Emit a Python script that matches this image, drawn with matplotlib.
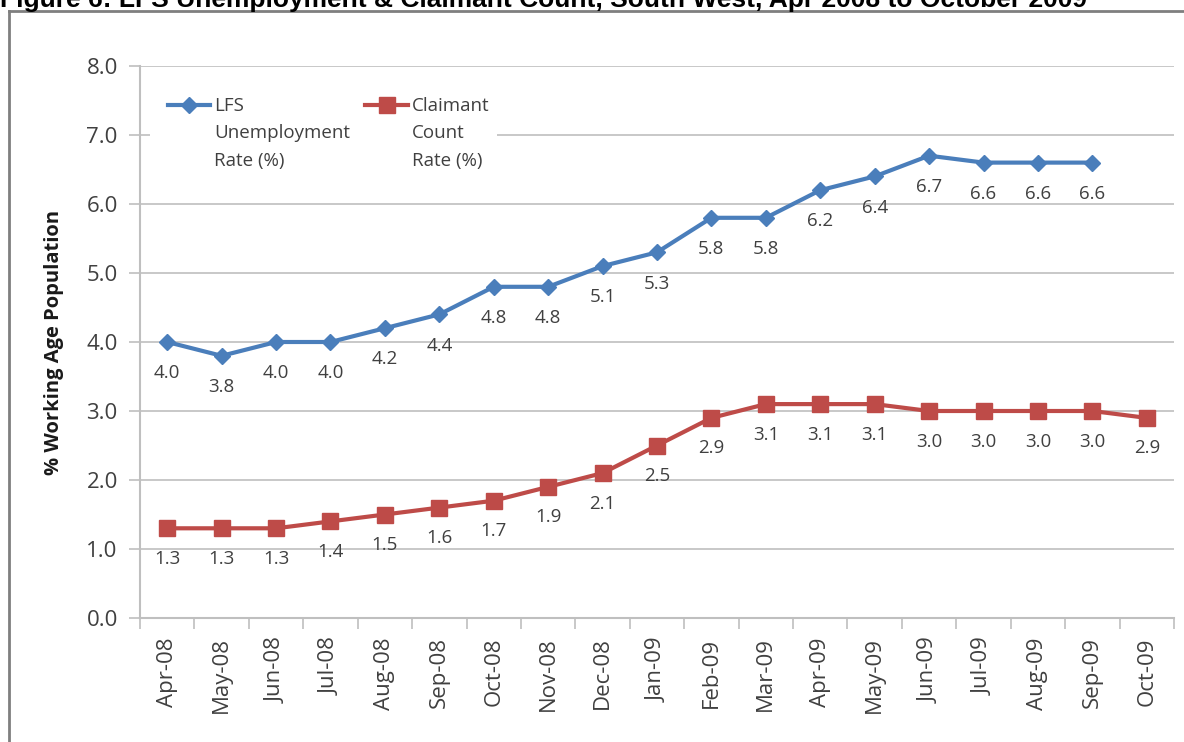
import matplotlib
matplotlib.use("Agg")
import matplotlib.pyplot as plt
from matplotlib.lines import Line2D
from matplotlib.patches import Rectangle

months = ["Apr-08", "May-08", "Jun-08", "Jul-08", "Aug-08", "Sep-08", "Oct-08",
          "Nov-08", "Dec-08", "Jan-09", "Feb-09", "Mar-09", "Apr-09", "May-09",
          "Jun-09", "Jul-09", "Aug-09", "Sep-09", "Oct-09"]
lfs_rate = [4.0, 3.8, 4.0, 4.0, 4.2, 4.4, 4.8, 4.8, 5.1, 5.3, 5.8, 5.8, 6.2,
            6.4, 6.7, 6.6, 6.6, 6.6]
claimant_rate = [1.3, 1.3, 1.3, 1.4, 1.5, 1.6, 1.7, 1.9, 2.1, 2.5, 2.9, 3.1,
                 3.1, 3.1, 3.0, 3.0, 3.0, 3.0, 2.9]
y_ticks = [0.0, 1.0, 2.0, 3.0, 4.0, 5.0, 6.0, 7.0, 8.0]

title = "Figure 6: LFS Unemployment & Claimant Count, South West, Apr 2008 to October 2009"
lfs_label = ["LFS", "Unemployment", "Rate (%)"]
claimant_label = ["Claimant", "Count", "Rate (%)"]

BLUE = "#4A7EBB"
RED = "#BE4B48"
GRID = "#BFBFBF"
TXT = "#404040"
FONT = "Open Sans"

W, H = 1184, 742
fig = plt.figure(figsize=(W / 100, H / 100), dpi=100)
fig.patch.set_facecolor("white")

# plot area in pixel terms
left, right, top, bottom = 140, 1174, 66, 618
ax = fig.add_axes([left / W, 1 - bottom / H, (right - left) / W, (bottom - top) / H])

x = list(range(len(months)))
ax.set_xlim(-0.5, len(months) - 0.5)
ax.set_ylim(0, 8)

ax.set_yticks(y_ticks)
ax.set_yticklabels([f"{v:.1f}" for v in y_ticks], fontfamily=FONT, fontsize=16, color=TXT)
ax.yaxis.grid(True, color=GRID, linewidth=1.2, zorder=0)
ax.set_axisbelow(True)
ax.tick_params(axis="y", length=8, width=1.2, color=GRID, pad=8)

ax.set_xticks(x)
ax.set_xticklabels(months, rotation=90, fontfamily=FONT, fontsize=16, color=TXT)
ax.set_xticks([i - 0.5 for i in range(len(months) + 1)], minor=True)
ax.tick_params(axis="x", which="major", length=0, pad=14)
ax.tick_params(axis="x", which="minor", length=8, width=1.2, color=GRID)

for s in ["top", "right"]:
    ax.spines[s].set_visible(False)
for s in ["left", "bottom"]:
    ax.spines[s].set_color(GRID)
    ax.spines[s].set_linewidth(1.5)

ax.set_ylabel("% Working Age Population", fontfamily=FONT, fontweight="bold",
              fontsize=14.5, color="#1a1a1a", labelpad=16)

# series
ax.plot(x[:len(lfs_rate)], lfs_rate, color=BLUE, linewidth=3, marker="D",
        markersize=8, zorder=4)
ax.plot(x, claimant_rate, color=RED, linewidth=3, marker="s", markersize=11,
        zorder=4)

# data labels below each point
for xi, v in zip(x, lfs_rate):
    ax.annotate(f"{v:.1f}", (xi, v), xytext=(0, -22.5), textcoords="offset points",
                ha="center", va="center", fontfamily=FONT, fontsize=13.5, color=TXT)
for xi, v in zip(x, claimant_rate):
    ax.annotate(f"{v:.1f}", (xi, v), xytext=(0, -22), textcoords="offset points",
                ha="center", va="center", fontfamily=FONT, fontsize=13.5, color=TXT)

# legend block
def ax_xy(px, py):
    return (px - left) / (right - left), (bottom - py) / (bottom - top)

lx0, ly0 = ax_xy(150, 178)
lx1, ly1 = ax_xy(497, 88)
ax.add_patch(Rectangle((lx0, ly0), lx1 - lx0, ly1 - ly0, transform=ax.transAxes,
                       facecolor="white", edgecolor="none", zorder=2))

def legend_entry(px0, px1, color, marker, ms, lines):
    (ax0, ay), (ax1, _) = ax_xy(px0, 105), ax_xy(px1, 105)
    ax.add_line(Line2D([ax0, ax1], [ay, ay], transform=ax.transAxes, color=color,
                       linewidth=3, zorder=5))
    ax.add_line(Line2D([(ax0 + ax1) / 2], [ay], transform=ax.transAxes, color=color,
                       marker=marker, markersize=ms, zorder=6))
    for i, t in enumerate(lines):
        tx, ty = ax_xy(px1 + 4, 106 + i * 27.5)
        ax.text(tx, ty, t, transform=ax.transAxes, ha="left", va="center",
                fontfamily=FONT, fontsize=13.5, color=TXT, zorder=6)

legend_entry(168, 210, BLUE, "D", 8, lfs_label)
legend_entry(365, 408, RED, "s", 11, claimant_label)

# outer frame
fig.add_artist(Line2D([9 / W, 9 / W], [0, 1 - 11 / H], transform=fig.transFigure,
                      color="#7f7f7f", linewidth=2))
fig.add_artist(Line2D([9 / W, 1], [1 - 11 / H, 1 - 11 / H], transform=fig.transFigure,
                      color="#7f7f7f", linewidth=2))

# heading, partly above the page edge
fig.text(0, 1 - 7 / H, title, ha="left", va="baseline", fontfamily="Liberation Sans",
         fontweight="bold", fontsize=19, color="black")

fig.savefig("out.png", dpi=100, facecolor="white")
